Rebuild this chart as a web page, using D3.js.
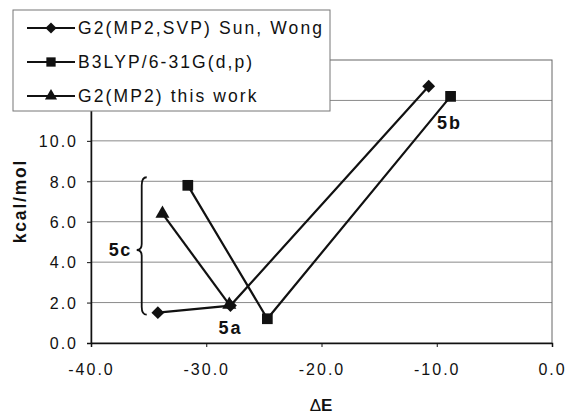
<!DOCTYPE html>
<html>
<head>
<meta charset="utf-8">
<script src="https://cdn.jsdelivr.net/npm/d3@7"></script>
<style>
  body { margin: 0; background: #fff; }
  text { font-family: "Liberation Sans", Arial, sans-serif; fill: #111; }
</style>
</head>
<body>
<div id="container"></div>
<script>
// <--------- data --------->
let seriesNames = ["G2(MP2,SVP) Sun, Wong", "B3LYP/6-31G(d,p)", "G2(MP2) this work"];
let sunWongX = [-34.2, -27.9, -10.7];
let sunWongY = [1.5, 1.85, 12.7];
let b3lypX = [-31.6, -24.7, -8.8];
let b3lypY = [7.8, 1.2, 12.2];
let thisWorkX = [-33.8, -28.0];
let thisWorkY = [6.4, 1.9];
let xTicks = [-40, -30, -20, -10, 0];
let yTicks = [0, 2, 4, 6, 8, 10, 12, 14];
let gridValues = [2, 4, 6, 8, 10, 12];
let labels = [
  {text: "5a", x: -27.9, y: 0.75},
  {text: "5b", x: -8.9, y: 10.9}
];

// <--------- canvas --------->
let W = 567, H = 414;
let padLeft = 91, padRight = 552, padTop = 60, padBottom = 343;

let viz = d3.select("#container")
  .append("svg")
    .attr("width", W)
    .attr("height", H)
    .style("background-color", "#fff");

let x = d3.scaleLinear().domain([-40, 0]).range([padLeft, padRight]);
let y = d3.scaleLinear().domain([0, 14]).range([padBottom, padTop]);

// gridlines
viz.selectAll(".grid").data(gridValues).enter()
  .append("line")
    .attr("x1", padLeft).attr("x2", padRight)
    .attr("y1", d => y(d)).attr("y2", d => y(d))
    .attr("stroke", "#8a8a8a")
    .attr("stroke-width", 1);

// plot area border
viz.append("rect")
  .attr("x", padLeft).attr("y", padTop)
  .attr("width", padRight - padLeft).attr("height", padBottom - padTop)
  .attr("fill", "none")
  .attr("stroke", "#666")
  .attr("stroke-width", 1);

// axes
let xAxis = viz.append("g")
  .attr("transform", "translate(0," + padBottom + ")")
  .call(d3.axisBottom(x).tickValues(xTicks).tickFormat(d => d.toFixed(1)).tickSize(4).tickPadding(17));
let yAxis = viz.append("g")
  .attr("transform", "translate(" + padLeft + ",0)")
  .call(d3.axisLeft(y).tickValues(yTicks).tickFormat(d => d.toFixed(1)).tickSize(4).tickPadding(9));

[xAxis, yAxis].forEach(a => {
  a.select(".domain").attr("stroke", "#111").attr("stroke-width", 1.5);
  a.selectAll(".tick line").attr("stroke", "#111");
  a.selectAll("text")
    .style("font-size", "16px")
    .style("letter-spacing", "2px")
    .attr("fill", "#111");
});
yAxis.selectAll("text").attr("dy", "0.36em");

// axis titles
viz.append("text")
  .attr("transform", "translate(26," + 201 + ") rotate(-90)")
  .attr("text-anchor", "middle")
  .style("font-size", "17.5px")
  .style("font-weight", "bold")
  .style("letter-spacing", "1.8px")
  .text("kcal/mol");

let dE = viz.append("text")
  .attr("x", 321).attr("y", 411)
  .attr("text-anchor", "middle")
  .style("font-size", "17px");
dE.append("tspan").text("Δ");
dE.append("tspan").style("font-weight", "bold").text("E");

// <--------- series --------->
let series = [
  {xs: sunWongX, ys: sunWongY, sym: d3.symbolDiamond2, size: 105},
  {xs: b3lypX, ys: b3lypY, sym: d3.symbolSquare, size: 115},
  {xs: thisWorkX, ys: thisWorkY, sym: d3.symbolTriangle, size: 85}
];

let line = d3.line().x(d => x(d[0])).y(d => y(d[1]));

series.forEach(s => {
  let pts = s.xs.map((v, i) => [v, s.ys[i]]);
  viz.append("path")
    .attr("d", line(pts))
    .attr("fill", "none")
    .attr("stroke", "#111")
    .attr("stroke-width", 2.2);
  viz.selectAll(null).data(pts).enter()
    .append("path")
      .attr("d", d3.symbol().type(s.sym).size(s.size))
      .attr("transform", d => "translate(" + x(d[0]) + "," + y(d[1]) + ")")
      .attr("fill", "#111");
});

// annotations
viz.selectAll(".lab").data(labels).enter()
  .append("text")
    .attr("x", d => x(d.x)).attr("y", d => y(d.y))
    .attr("text-anchor", "middle")
    .attr("dy", "0.36em")
    .style("font-size", "18px")
    .style("font-weight", "bold")
    .style("letter-spacing", "2px")
    .text(d => d.text);

// brace for 5c
let bx = x(-35.6), bTop = y(8.2), bBot = y(1.4), bMid = y(4.6);
viz.append("path")
  .attr("d", "M" + (bx + 5) + "," + bTop +
    " Q" + bx + "," + bTop + " " + bx + "," + (bTop + 8) +
    " L" + bx + "," + (bMid - 6) +
    " Q" + bx + "," + bMid + " " + (bx - 5) + "," + bMid +
    " Q" + bx + "," + bMid + " " + bx + "," + (bMid + 6) +
    " L" + bx + "," + (bBot - 8) +
    " Q" + bx + "," + bBot + " " + (bx + 5) + "," + bBot)
  .attr("fill", "none")
  .attr("stroke", "#111")
  .attr("stroke-width", 1.8);

viz.append("text")
  .attr("x", bx - 10).attr("y", bMid)
  .attr("dy", "0.36em")
  .attr("text-anchor", "end")
  .style("font-size", "18px")
  .style("font-weight", "bold")
  .style("letter-spacing", "1.5px")
  .text("5c");

// <--------- legend --------->
let legend = viz.append("g").attr("transform", "translate(13,10)");
legend.append("rect")
  .attr("width", 317).attr("height", 101)
  .attr("fill", "#fff")
  .attr("stroke", "#777")
  .attr("stroke-width", 1);

let legRows = legend.selectAll(".leg").data(seriesNames).enter()
  .append("g")
    .attr("transform", (d, i) => "translate(0," + (18 + i * 34) + ")");

legRows.append("line")
  .attr("x1", 14).attr("x2", 62)
  .attr("stroke", "#111").attr("stroke-width", 2);
legRows.append("path")
  .attr("d", (d, i) => d3.symbol().type(series[i].sym).size(series[i].size * 0.75)())
  .attr("transform", "translate(38,0)")
  .attr("fill", "#111");
legRows.append("text")
  .attr("x", 65)
  .attr("dy", "0.36em")
  .style("font-size", "17.5px")
  .style("letter-spacing", "2.1px")
  .text(d => d);
</script>
</body>
</html>
